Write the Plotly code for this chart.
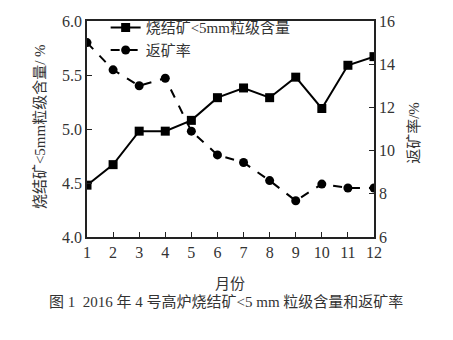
import plotly.graph_objects as go

months = list(range(1, 13))
fines = [4.48, 4.67, 4.98, 4.98, 5.08, 5.29, 5.38, 5.29, 5.48, 5.19, 5.59, 5.67]
return_rate = [15.0, 13.74, 13.0, 13.35, 10.9, 9.8, 9.45, 8.61, 7.68, 8.45, 8.27, 8.27]

name1 = "烧结矿<5mm粒级含量"
name2 = "返矿率"
xtitle = "月份"
y1title = "烧结矿<5mm粒级含量/ %"
y2title = "返矿率/%"
caption = "图 1  2016 年 4 号高炉烧结矿<5 mm 粒级含量和返矿率"

FONT = "Liberation Serif, Noto Sans CJK SC"
TXT = "#333"
fig = go.Figure()
fig.add_trace(go.Scatter(x=months, y=fines, name=name1, mode="lines+markers",
                         line=dict(color="black", width=2),
                         marker=dict(symbol="square", size=9, color="black")))
fig.add_trace(go.Scatter(x=months, y=return_rate, name=name2, mode="lines+markers",
                         yaxis="y2",
                         line=dict(color="black", width=2, dash="dash"),
                         marker=dict(symbol="circle", size=9, color="black")))

fig.update_layout(
    width=453, height=340,
    margin=dict(l=87, r=79, t=11, b=103),
    paper_bgcolor="white", plot_bgcolor="white",
    font=dict(family=FONT, size=16, color=TXT),
    showlegend=True,
    legend=dict(x=0.065, y=1.045, xanchor="left", yanchor="top",
                bgcolor="rgba(0,0,0,0)", font=dict(size=15, color=TXT), tracegroupgap=0,
                itemwidth=30),
    xaxis=dict(range=[1, 12], tickmode="array", tickvals=months,
               ticks="inside", ticklen=5, tickcolor="#222",
               showline=True, linecolor="#222", linewidth=1.5, mirror=True,
               showgrid=False, zeroline=False),
    yaxis=dict(range=[4.0, 6.0], dtick=0.5, tickformat=".1f",
               ticks="inside", ticklen=5, tickcolor="#222",
               showline=True, linecolor="#222", linewidth=1.5,
               showgrid=False, zeroline=False),
    yaxis2=dict(range=[6, 16], dtick=2, overlaying="y", side="right",
                ticks="inside", ticklen=5, tickcolor="#222",
                showline=True, linecolor="#222", linewidth=1.5,
                showgrid=False, zeroline=False),
    annotations=[
        dict(text=y1title, x=40, y=122, showarrow=False, textangle=-90, font=dict(size=15)),
        dict(text=y2title, x=414, y=128, showarrow=False, textangle=-90, font=dict(size=15)),
        dict(text=xtitle, x=230, y=286, showarrow=False, font=dict(size=15)),
        dict(text=caption, x=226, y=305, showarrow=False, font=dict(size=15)),
    ],
)

# convert pixel positions into paper coordinates
pw, ph = 453 - 87 - 79, 340 - 11 - 103
for a in fig.layout.annotations:
    px, py = a.x, a.y
    a.x = (px - 87) / pw
    a.y = 1 - (py - 11) / ph
    a.xref = "paper"
    a.yref = "paper"
    a.xanchor = "center"
    a.yanchor = "middle"

fig.write_html("out.html")
